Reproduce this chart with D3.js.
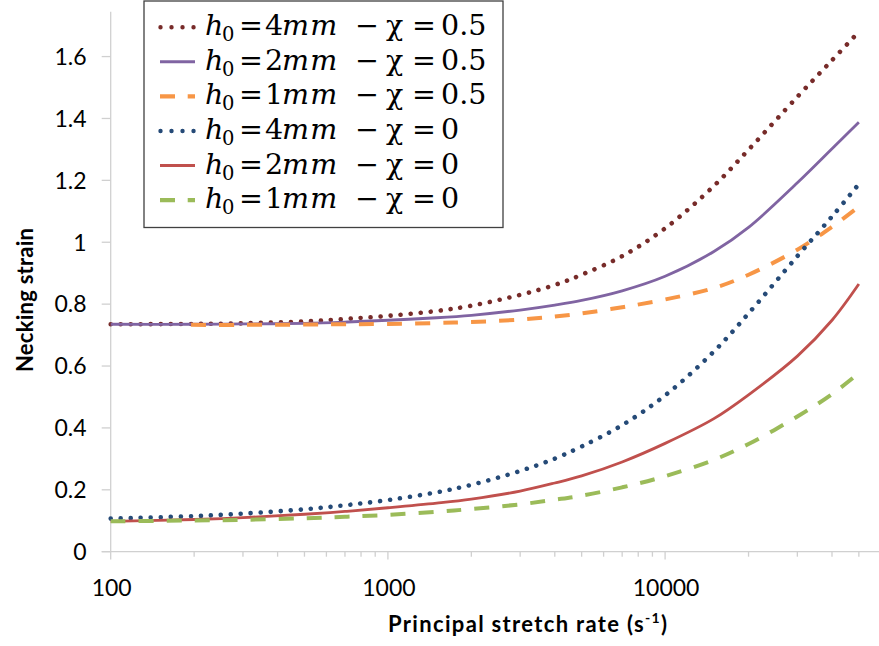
<!DOCTYPE html>
<html><head><meta charset="utf-8">
<script src="https://cdn.jsdelivr.net/npm/d3@7"></script>
<style>body{margin:0;background:#fff}svg{display:block}</style>
</head><body><svg id="c" width="879" height="646"></svg>
<script>
// ---- data ----
const rates = [100,200,300,500,700,1000,1500,2000,3000,4000,5000,7000,10000,15000,20000,30000,40000,50000];
const ratesOrange = [195,300,500,700,1000,1500,2000,3000,4000,5000,7000,10000,15000,20000,30000,40000,50000];
const h4_chi05 = [0.735,0.736,0.738,0.744,0.752,0.762,0.778,0.795,0.830,0.862,0.895,0.955,1.045,1.182,1.299,1.470,1.588,1.680];
const h2_chi05 = [0.735,0.735,0.736,0.738,0.742,0.748,0.756,0.764,0.781,0.797,0.812,0.843,0.890,0.970,1.048,1.192,1.302,1.388];
const h1_chi05 = [0.733,0.733,0.734,0.735,0.736,0.739,0.742,0.750,0.760,0.770,0.790,0.815,0.852,0.895,0.976,1.050,1.115];
const h4_chi0  = [0.107,0.115,0.123,0.137,0.150,0.167,0.192,0.216,0.261,0.301,0.340,0.409,0.505,0.647,0.770,0.955,1.083,1.188];
const h2_chi0  = [0.098,0.104,0.110,0.121,0.130,0.142,0.157,0.170,0.196,0.222,0.245,0.290,0.350,0.430,0.507,0.632,0.748,0.865];
const h1_chi0  = [0.098,0.101,0.103,0.108,0.113,0.119,0.129,0.138,0.153,0.168,0.181,0.208,0.244,0.297,0.348,0.437,0.509,0.577];
const legendH   = ["4","2","1","4","2","1"];
const legendChi = ["0.5","0.5","0.5","0","0","0"];
const yTicks = [0,0.2,0.4,0.6,0.8,1,1.2,1.4,1.6];
const yTickLabels = ["0","0.2","0.4","0.6","0.8","1","1.2","1.4","1.6"];
const xMajor = [100,1000,10000];
const xMajorLabels = ["100","1000","10000"];

const series = [
  {x: rates, y: h4_chi05, color:"#772b29", style:"dot"},
  {x: rates, y: h2_chi05, color:"#8064a2", style:"solid"},
  {x: ratesOrange, y: h1_chi05, color:"#f79646", style:"dash"},
  {x: rates, y: h4_chi0, color:"#254a77", style:"dot"},
  {x: rates, y: h2_chi0, color:"#c0504d", style:"solid"},
  {x: rates, y: h1_chi0, color:"#9bbb59", style:"dash"}
];

const svg = d3.select("#c");
const X = d3.scaleLog().domain([100,100000]).range([110.7, 110.7+3*277.2]);
const Y = d3.scaleLinear().domain([0,1.745]).range([551.7, 11.7]);
const axisCol = "#d0d0d0";
const tickFont = "Lato, 'Open Sans', sans-serif";

// y axis
svg.append("line").attr("x1",X(100)).attr("x2",X(100)).attr("y1",Y(1.745)).attr("y2",Y(0))
  .attr("stroke",axisCol).attr("stroke-width",1.3);
const ya = svg.append("g");
ya.selectAll("line").data(yTicks).join("line")
  .attr("x1",X(100)-9).attr("x2",X(100)).attr("y1",d=>Y(d)).attr("y2",d=>Y(d))
  .attr("stroke",axisCol).attr("stroke-width",1.3);
ya.selectAll("text").data(yTicks).join("text")
  .attr("x",86.5).attr("y",d=>Y(d)+8.3).attr("text-anchor","end")
  .attr("font-family",tickFont).attr("font-size",23).attr("fill","#000")
  .text((d,i)=>yTickLabels[i]);

// x axis
svg.append("line").attr("x1",X(100)-9).attr("x2",879).attr("y1",Y(0)).attr("y2",Y(0))
  .attr("stroke",axisCol).attr("stroke-width",1.3);
const minor = [];
[100,1000,10000].forEach(b=>{for(let k=2;k<=9;k++){const v=b*k; if(X(v)<879) minor.push(v);}});
svg.append("g").selectAll("line").data(minor).join("line")
  .attr("x1",d=>X(d)).attr("x2",d=>X(d)).attr("y1",Y(0)).attr("y2",Y(0)+5)
  .attr("stroke",axisCol).attr("stroke-width",1.3);
svg.append("g").selectAll("line").data(xMajor).join("line")
  .attr("x1",d=>X(d)).attr("x2",d=>X(d)).attr("y1",Y(0)).attr("y2",Y(0)+7.7)
  .attr("stroke",axisCol).attr("stroke-width",1.3);
svg.append("g").selectAll("text").data(xMajor).join("text")
  .attr("x",d=>X(d)+1).attr("y",595.5).attr("text-anchor","middle")
  .attr("font-family",tickFont).attr("font-size",23).attr("fill","#000")
  .text((d,i)=>xMajorLabels[i]);

// axis titles
const xt = svg.append("text").attr("x",388).attr("y",631.5)
  .attr("font-family",tickFont).attr("font-weight","bold").attr("font-size",22).attr("fill","#000");
xt.append("tspan").text("Principal stretch rate (s");
xt.append("tspan").attr("dy",-9).attr("font-size",14).text("-1");
xt.append("tspan").attr("dy",9).text(")");
xt.attr("textLength",279).attr("lengthAdjust","spacing");
svg.append("text").attr("transform","translate(32.5,300) rotate(-90)").attr("text-anchor","middle")
  .attr("font-family",tickFont).attr("font-weight","bold").attr("font-size",22).attr("fill","#000")
  .attr("textLength",144).attr("lengthAdjust","spacing")
  .text("Necking strain");

// lines
function styleLine(sel, s){
  sel.attr("fill","none").attr("stroke",s.color);
  if(s.style==="dot") sel.attr("stroke-width",4.6).attr("stroke-linecap","round").attr("stroke-dasharray","0.01 10");
  else if(s.style==="dash") sel.attr("stroke-width",4).attr("stroke-linecap","butt").attr("stroke-dasharray","15 13");
  else sel.attr("stroke-width",2.8);
}
const line = d3.line().curve(d3.curveCatmullRom.alpha(0.5));
series.forEach(s=>{
  const pts = s.x.map((v,i)=>[X(v),Y(s.y[i])]);
  svg.append("path").attr("d",line(pts)).call(styleLine,s);
});

// legend
svg.append("rect").attr("x",144).attr("y",1).attr("width",359).attr("height",226.5)
  .attr("fill","#fff").attr("stroke","#404040").attr("stroke-width",1.3);
const mathFont = "'DejaVu Serif', serif";
series.forEach((s,i)=>{
  const cy = 27.3 + i*34.55;
  const g = svg.append("g");
  g.append("line").attr("x1",160).attr("x2",195).attr("y1",cy).attr("y2",cy).call(styleLine,s)
    .attr("stroke-width", s.style==="dot" ? 4.4 : s.style==="dash" ? 4.2 : 3)
    .attr("stroke-dasharray", s.style==="dot" ? "0.01 11" : s.style==="dash" ? "15 12.7" : null)
    .attr("stroke-dashoffset", s.style==="dot" ? -0.5 : 0);
  const by = cy + 8;
  const t = (x,txt,it,size,dy)=>g.append("text").attr("x",x).attr("y",by+(dy||0))
    .attr("font-family",mathFont).attr("font-size",size||28.5).attr("font-style",it?"italic":"normal")
    .attr("fill","#000").text(txt);
  t(205,"h",true);
  t(222,"0",false,19.5,6);
  t(239,"=");
  t(265,legendH[i]);
  t(282,"mm",true).attr("letter-spacing",1.2);
  t(355,"−");
  t(386,"χ");
  t(412,"=");
  t(441,legendChi[i]);
});
</script></body></html>
